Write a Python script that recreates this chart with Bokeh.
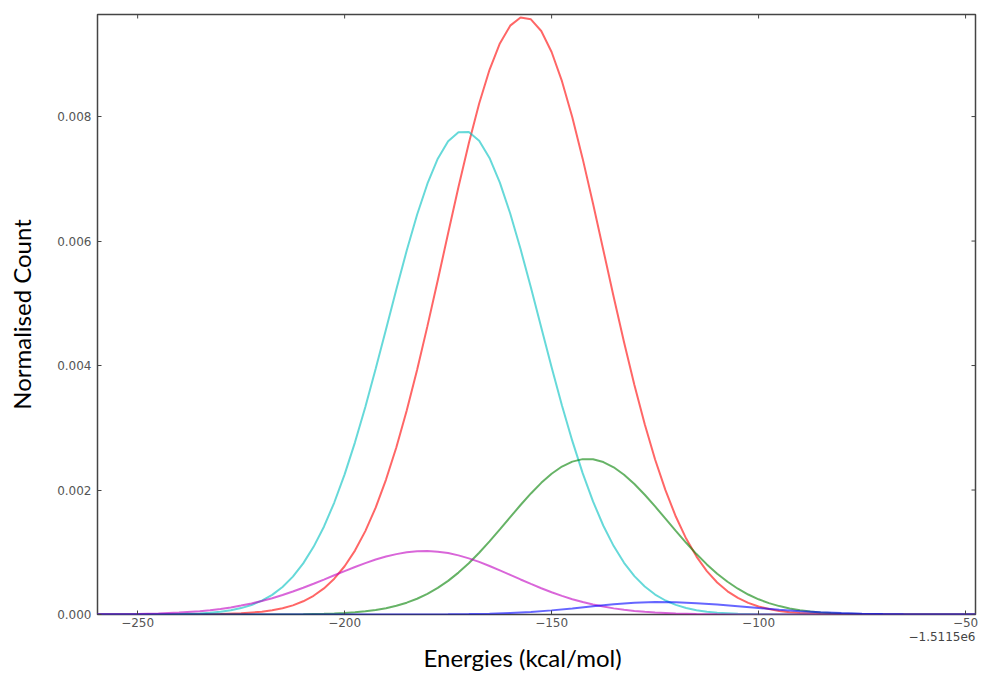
import math
from bokeh.plotting import figure
from bokeh.models import FixedTicker, Range1d, Title
from bokeh.embed import file_html
from bokeh.resources import INLINE

# ---- data (energies are offsets from -1.5115e6 kcal/mol) ----
x_ticks = [-250, -200, -150, -100, -50]
x_tick_labels = ["\u2212250", "\u2212200", "\u2212150", "\u2212100", "\u221250"]
y_ticks = [0, 0.002, 0.004, 0.006, 0.008]
y_tick_labels = ["0.000", "0.002", "0.004", "0.006", "0.008"]
x_offset_text = "\u22121.5115e6"
x_title = "Energies (kcal/mol)"
y_title = "Normalised Count"

red_curve = [(-260, 0), (-240, 0.0000004), (-230, 0.0000071), (-225, 0.0000183),
    (-220, 0.0000443), (-217.5, 0.0000672), (-215, 0.000100), (-212.5, 0.000147),
    (-210, 0.000212), (-207.5, 0.000301), (-205, 0.000419), (-202.5, 0.000575),
    (-200, 0.000775), (-197.5, 0.001027), (-195, 0.001340), (-192.5, 0.001717),
    (-190, 0.002168), (-187.5, 0.002688), (-185, 0.003276), (-182.5, 0.003928),
    (-180, 0.004633), (-177.5, 0.005371), (-175, 0.006125), (-172.5, 0.006867),
    (-170, 0.007572), (-167.5, 0.008209), (-165, 0.008752), (-162.5, 0.009176),
    (-160, 0.009461), (-157.5, 0.009592), (-155, 0.009563), (-152.5, 0.009375),
    (-150, 0.009038), (-147.5, 0.008569), (-145, 0.007988), (-142.5, 0.007324),
    (-140, 0.006602), (-137.5, 0.005853), (-135, 0.005102), (-132.5, 0.004374),
    (-130, 0.003687), (-127.5, 0.003057), (-125, 0.002491), (-122.5, 0.001998),
    (-120, 0.001574), (-117.5, 0.001220), (-115, 0.000930), (-112.5, 0.000698),
    (-110, 0.000514), (-107.5, 0.000373), (-105, 0.000266), (-102.5, 0.000186),
    (-100, 0.000128), (-97.5, 0.000087), (-95, 0.000058), (-92.5, 0.000038),
    (-90, 0.0000245), (-85, 0.0000097), (-80, 0.0000036), (-70, 0.0000004), (-47.5, 0)]

cyan_curve = [(-260, 0), (-250, 0.000001), (-240, 0.0000066), (-235, 0.0000178),
    (-232.5, 0.0000284), (-230, 0.0000445), (-227.5, 0.0000685), (-225, 0.000103),
    (-222.5, 0.000153), (-220, 0.000222), (-217.5, 0.000316), (-215, 0.000443),
    (-212.5, 0.000609), (-210, 0.000821), (-207.5, 0.001087), (-205, 0.001411),
    (-202.5, 0.001799), (-200, 0.002252), (-197.5, 0.002766), (-195, 0.003335),
    (-192.5, 0.003947), (-190, 0.004584), (-187.5, 0.005225), (-185, 0.005848),
    (-182.5, 0.006422), (-180, 0.006921), (-177.5, 0.007323), (-175, 0.007604),
    (-172.5, 0.007750), (-170, 0.007753), (-167.5, 0.007613), (-165, 0.007336),
    (-162.5, 0.006939), (-160, 0.006443), (-157.5, 0.005871), (-155, 0.005252),
    (-152.5, 0.004610), (-150, 0.003972), (-147.5, 0.003359), (-145, 0.002789),
    (-142.5, 0.002271), (-140, 0.001817), (-137.5, 0.001426), (-135, 0.001099),
    (-132.5, 0.000831), (-130, 0.000616), (-127.5, 0.000449), (-125, 0.000321),
    (-122.5, 0.000225), (-120, 0.000155), (-117.5, 0.000105), (-115, 0.0000696),
    (-112.5, 0.0000453), (-110, 0.000029), (-105, 0.0000112), (-100, 0.000004),
    (-90, 0.0000003), (-47.5, 0)]

green_curve = [(-260, 0), (-215, 0.0000016), (-210, 0.0000042), (-205, 0.0000103),
    (-202.5, 0.0000158), (-200, 0.0000237), (-197.5, 0.000035), (-195, 0.0000507),
    (-192.5, 0.0000723), (-190, 0.000101), (-187.5, 0.000140), (-185, 0.000190),
    (-182.5, 0.000253), (-180, 0.000331), (-177.5, 0.000427), (-175, 0.000540),
    (-172.5, 0.000673), (-170, 0.000824), (-167.5, 0.000992), (-165, 0.001174),
    (-162.5, 0.001367), (-160, 0.001564), (-157.5, 0.001759), (-155, 0.001945),
    (-152.5, 0.002115), (-150, 0.002261), (-147.5, 0.002377), (-145, 0.002456),
    (-142.5, 0.002496), (-140, 0.002493), (-137.5, 0.002449), (-135, 0.002365),
    (-132.5, 0.002245), (-130, 0.002096), (-127.5, 0.001924), (-125, 0.001736),
    (-122.5, 0.001540), (-120, 0.001343), (-117.5, 0.001152), (-115, 0.000971),
    (-112.5, 0.000805), (-110, 0.000656), (-107.5, 0.000526), (-105, 0.000414),
    (-102.5, 0.000321), (-100, 0.000244), (-97.5, 0.000183), (-95, 0.000135),
    (-92.5, 0.0000975), (-90, 0.0000693), (-87.5, 0.0000485), (-85, 0.0000334),
    (-82.5, 0.0000226), (-80, 0.000015), (-75, 0.0000063), (-70, 0.0000025),
    (-60, 0.0000002), (-47.5, 0)]

magenta_curve = [(-260, 0.000002), (-250, 0.0000085), (-245, 0.0000165), (-240, 0.0000306),
    (-235, 0.0000538), (-232.5, 0.0000699), (-230, 0.0000898), (-227.5, 0.000114),
    (-225, 0.000143), (-222.5, 0.000177), (-220, 0.000217), (-217.5, 0.000262),
    (-215, 0.000313), (-212.5, 0.000369), (-210, 0.000429), (-207.5, 0.000494),
    (-205, 0.000561), (-202.5, 0.000630), (-200, 0.000698), (-197.5, 0.000764),
    (-195, 0.000826), (-192.5, 0.000883), (-190, 0.000931), (-187.5, 0.000970),
    (-185, 0.000999), (-182.5, 0.001016), (-180, 0.001020), (-177.5, 0.001010),
    (-175, 0.000987), (-172.5, 0.000950), (-170, 0.000902), (-167.5, 0.000845),
    (-165, 0.000779), (-162.5, 0.000709), (-160, 0.000636), (-157.5, 0.000563),
    (-155, 0.000491), (-152.5, 0.000422), (-150, 0.000358), (-147.5, 0.000299),
    (-145, 0.000246), (-142.5, 0.000200), (-140, 0.000160), (-137.5, 0.000127),
    (-135, 0.0000985), (-132.5, 0.0000757), (-130, 0.0000573), (-127.5, 0.0000427),
    (-125, 0.0000314), (-120, 0.0000163), (-115, 0.000008), (-110, 0.0000037),
    (-100, 0.0000007), (-47.5, 0)]

blue_curve = [(-260, 0), (-200, 0), (-180, 0.0000012), (-175, 0.0000029),
    (-170, 0.0000063), (-165, 0.0000129), (-160, 0.0000241), (-155, 0.0000417),
    (-150, 0.0000663), (-145, 0.0000974), (-140, 0.000132), (-135, 0.000164),
    (-130, 0.000189), (-125, 0.000200), (-120, 0.000196), (-115, 0.000182),
    (-110, 0.000160), (-105, 0.000133), (-100, 0.000104), (-95, 0.0000771),
    (-90, 0.0000539), (-85, 0.0000357), (-80, 0.0000223), (-75, 0.0000131),
    (-70, 0.0000073), (-65, 0.0000039), (-60, 0.0000019), (-47.5, 0)]

series = [
    (red_curve, "#ff0000"),
    (cyan_curve, "#00bfbf"),
    (green_curve, "#008000"),
    (magenta_curve, "#bf00bf"),
    (blue_curve, "#0000ff"),
]

X_MIN, X_MAX = -259.7, -47.6
Y_MIN, Y_MAX = 0.0, 0.00964

p = figure(width=982, height=675, output_backend="svg", toolbar_location=None,
           x_range=Range1d(X_MIN, X_MAX), y_range=Range1d(Y_MIN, Y_MAX),
           min_border_left=97, min_border_right=7, min_border_top=14,
           min_border_bottom=61)
p.background_fill_color = "white"
p.border_fill_color = "white"
p.grid.visible = False
p.outline_line_color = "#444444"
p.outline_line_width = 1.5
p.outline_line_alpha = 1.0

for pts, col in series:
    xs = [a for a, b in pts]
    ys = [b for a, b in pts]
    p.line(xs, ys, line_color=col, line_alpha=0.6, line_width=2)

# inward tick marks on the top and right edges (matplotlib-style box)
p.ray(x=x_ticks, y=[Y_MAX] * len(x_ticks), length=4, length_units="screen",
      angle=-math.pi / 2, line_color="#444444", line_width=1)
p.ray(x=[X_MAX] * len(y_ticks), y=y_ticks, length=4, length_units="screen",
      angle=math.pi, line_color="#444444", line_width=1)

tick_font = "DejaVu Sans"
tick_color = "#555555"

def style_axis(ax, ticks):
    ax.ticker = FixedTicker(ticks=ticks)
    ax.axis_line_color = None
    ax.major_tick_in = 4
    ax.major_tick_out = 0
    ax.minor_tick_in = 0
    ax.minor_tick_out = 0
    ax.major_tick_line_color = "#444444"
    ax.major_tick_line_width = 1
    ax.major_label_text_font = tick_font
    ax.major_label_text_font_size = "12px"
    ax.major_label_text_color = tick_color

xa = p.xaxis[0]
style_axis(xa, x_ticks)
xa.major_label_overrides = {t: s for t, s in zip(x_ticks, x_tick_labels)}
xa.major_label_standoff = 3

ya = p.yaxis[0]
style_axis(ya, y_ticks)
ya.major_label_overrides = {t: s for t, s in zip(y_ticks, y_tick_labels)}
ya.major_label_standoff = 6
ya.axis_label = y_title
ya.axis_label_text_font = "Lato"
ya.axis_label_text_font_size = "24px"
ya.axis_label_text_font_style = "normal"
ya.axis_label_text_color = "#000000"
ya.axis_label_standoff = 18

offset_title = Title(text=x_offset_text, align="right", offset=0, standoff=0,
                     text_font=tick_font, text_font_size="12px",
                     text_font_style="normal", text_color="#444444")
p.add_layout(offset_title, "below")
x_label = Title(text=x_title, align="left", offset=326, standoff=0,
                text_font="Lato", text_font_size="24px",
                text_font_style="normal", text_color="#000000")
p.add_layout(x_label, "below")

open("out.html", "w").write(file_html(p, INLINE))
